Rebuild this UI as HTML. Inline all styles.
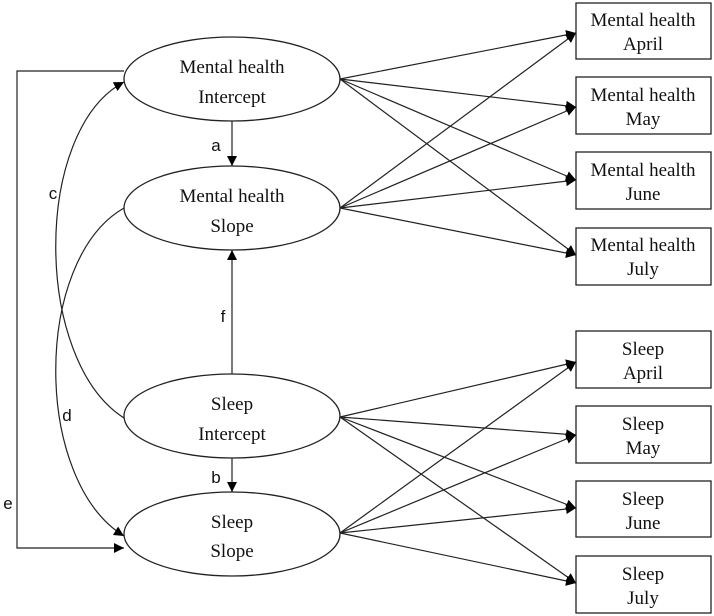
<!DOCTYPE html>
<html><head><meta charset="utf-8"><style>
html,body{margin:0;padding:0;background:#fff;}
svg{display:block;}
.n{font-family:"Liberation Serif",serif;font-size:19px;fill:#111;text-anchor:middle;}
.l{font-family:"Liberation Sans",sans-serif;font-size:17px;fill:#111;text-anchor:middle;}
</style></head><body>
<svg width="714" height="616" viewBox="0 0 714 616" xmlns="http://www.w3.org/2000/svg">
<defs>
<marker id="ar" viewBox="0 0 10 10" refX="10" refY="5" markerWidth="10" markerHeight="10" markerUnits="userSpaceOnUse" orient="auto">
<path d="M0,0 L10,5 L0,10 z" fill="#000"/></marker>
</defs>
<g fill="none" stroke="#222" stroke-width="1.3">
<ellipse cx="232" cy="79" rx="108" ry="42"/>
<ellipse cx="232" cy="208" rx="108" ry="42"/>
<ellipse cx="232" cy="416" rx="108" ry="42"/>
<ellipse cx="232" cy="534" rx="108" ry="42"/>
<rect x="576" y="3" width="135" height="56"/>
<rect x="576" y="77" width="135" height="57"/>
<rect x="576" y="152" width="135" height="57"/>
<rect x="576" y="228" width="135" height="57"/>
<rect x="576" y="331" width="135" height="57"/>
<rect x="576" y="406" width="135" height="57"/>
<rect x="576" y="481" width="135" height="56"/>
<rect x="576" y="556" width="135" height="57"/>
</g>
<g fill="none" stroke="#222" stroke-width="1.2" marker-end="url(#ar)">
<line x1="232" y1="121" x2="232" y2="166"/>
<line x1="232" y1="458" x2="232" y2="492"/>
<line x1="232" y1="374" x2="232" y2="250"/>
<polyline points="124,71 17,71 17,548 124,548"/>
<path d="M124,418 C33,360 33,130 124,82"/>
<path d="M124,208 C33,260 33,480 124,536"/>
<line x1="340" y1="79" x2="576" y2="33"/>
<line x1="340" y1="79" x2="576" y2="107"/>
<line x1="340" y1="79" x2="576" y2="180"/>
<line x1="340" y1="79" x2="576" y2="255"/>
<line x1="340" y1="208" x2="576" y2="33"/>
<line x1="340" y1="208" x2="576" y2="107"/>
<line x1="340" y1="208" x2="576" y2="180"/>
<line x1="340" y1="208" x2="576" y2="255"/>
<line x1="340" y1="417" x2="576" y2="362"/>
<line x1="340" y1="417" x2="576" y2="435"/>
<line x1="340" y1="417" x2="576" y2="508"/>
<line x1="340" y1="417" x2="576" y2="583"/>
<line x1="340" y1="533" x2="576" y2="362"/>
<line x1="340" y1="533" x2="576" y2="435"/>
<line x1="340" y1="533" x2="576" y2="508"/>
<line x1="340" y1="533" x2="576" y2="583"/>
</g>
<g class="n">
<text x="232" y="73">Mental health</text><text x="232" y="103">Intercept</text>
<text x="232" y="202">Mental health</text><text x="232" y="232">Slope</text>
<text x="232" y="410">Sleep</text><text x="232" y="440">Intercept</text>
<text x="232" y="528">Sleep</text><text x="232" y="557">Slope</text>
<text x="643" y="26">Mental health</text><text x="643" y="50">April</text>
<text x="643" y="101">Mental health</text><text x="643" y="125">May</text>
<text x="643" y="176">Mental health</text><text x="643" y="200">June</text>
<text x="643" y="251">Mental health</text><text x="643" y="275">July</text>
<text x="643" y="355">Sleep</text><text x="643" y="379">April</text>
<text x="643" y="430">Sleep</text><text x="643" y="454">May</text>
<text x="643" y="505">Sleep</text><text x="643" y="529">June</text>
<text x="643" y="580">Sleep</text><text x="643" y="604">July</text>
</g>
<g class="l">
<text x="216" y="151">a</text>
<text x="216" y="483">b</text>
<text x="53" y="199">c</text>
<text x="67" y="421">d</text>
<text x="8" y="509">e</text>
<text x="223" y="322">f</text>
</g>
</svg>
</body></html>
